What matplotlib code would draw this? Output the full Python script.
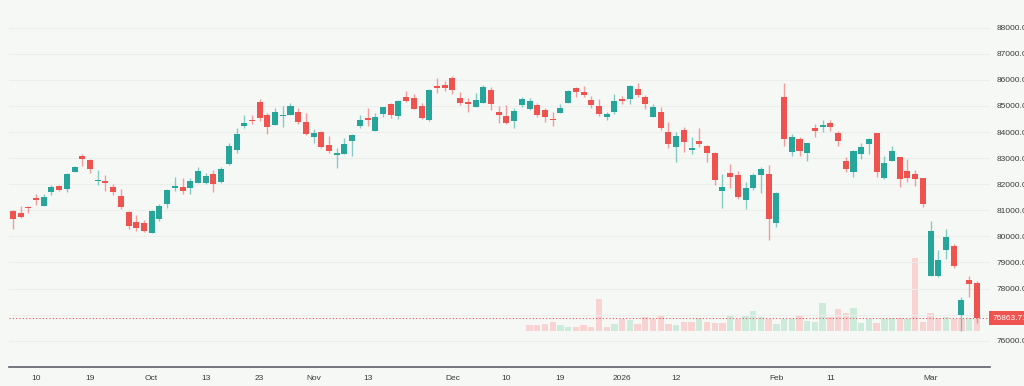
import matplotlib.pyplot as plt
import numpy as np
from matplotlib.ticker import FormatStrFormatter
from matplotlib.transforms import blended_transform_factory

plt.rcParams['font.family'] = ['Liberation Sans', 'DejaVu Sans']

# daily OHLC, one row of ten candles per line
opens = [80980, 80880, 81130, 81480, 81180, 81710, 81920, 81830, 82480, 83090,
         82930, 82120, 82120, 81890, 81550, 80920, 80550, 80500, 80120, 80650,
         81230, 81850, 81890, 81870, 82030, 82030, 82390, 82100, 82770, 83310,
         84240, 84470, 85160, 84650, 84270, 84630, 84640, 84760, 84380, 83800,
         84000, 83500, 83120, 83160, 83650, 84220, 84530, 84030, 84690, 85060,
         84630, 85330, 85320, 85000, 84460, 85770, 85800, 86080, 85320, 85140,
         84970, 85100, 85610, 84750, 84620, 84430, 85050, 84870, 85040, 84840,
         84510, 84740, 85130, 85680, 85540, 85230, 85000, 84570, 84760, 85260,
         85260, 85650, 85330, 84590, 84780, 84010, 83420, 84080, 83310, 83670,
         83480, 83210, 81750, 82440, 82340, 81390, 81850, 82340, 82380, 80520,
         85330, 83250, 83730, 83210, 84150, 84180, 84340, 83950, 82890, 82460,
         83160, 83530, 83950, 82240, 82900, 83030, 82510, 82400, 82230, 78480,
         78480, 79480, 79630, 76990, 78330, 78200]
highs = [81010, 81160, 81180, 81610, 81610, 81980, 81980, 82420, 82700, 83150,
         82980, 82540, 82340, 82020, 81820, 80980, 80830, 80630, 81010, 81230,
         81830, 82290, 82240, 82230, 82650, 82420, 82540, 82670, 83590, 84140,
         84650, 84650, 85270, 84740, 84930, 85000, 85100, 84910, 84720, 84100,
         84030, 83850, 83390, 83760, 83920, 84650, 84910, 84720, 84970, 85100,
         85230, 85590, 85460, 85100, 85640, 86060, 85960, 86160, 85540, 85310,
         85490, 85800, 85740, 85000, 85040, 84910, 85330, 85290, 85130, 84910,
         84760, 85080, 85610, 85720, 85770, 85380, 85260, 84780, 85460, 85390,
         85800, 85890, 85420, 85080, 84960, 84400, 84000, 84210, 83800, 84140,
         83500, 83250, 82390, 82760, 82510, 82070, 82420, 82670, 82740, 81710,
         85870, 83920, 83800, 83590, 84300, 84460, 84460, 84050, 83050, 83310,
         83570, 83760, 83950, 83080, 83460, 83050, 82950, 82540, 82230, 80600,
         79480, 80270, 79710, 77660, 78480, 78300]
lows = [80280, 80700, 80880, 81200, 81170, 81600, 81730, 81710, 82460, 82690,
        82440, 81970, 81730, 81570, 81040, 80280, 80210, 80170, 80120, 80600,
        81100, 81750, 81620, 81620, 82030, 82010, 81710, 82050, 82720, 83180,
        84170, 84300, 84420, 83920, 84270, 84200, 84640, 84300, 83890, 83590,
        83400, 83210, 82630, 83160, 83080, 84170, 84220, 84030, 84590, 84530,
        84500, 85160, 84870, 84500, 84430, 85490, 85570, 85460, 85040, 84750,
        84960, 85100, 84840, 84350, 84300, 84140, 84950, 84840, 84590, 84370,
        84230, 84720, 85100, 85350, 85330, 84910, 84620, 84460, 84690, 85080,
        85060, 85330, 84870, 84590, 84080, 83380, 82840, 83250, 83160, 83430,
        82860, 81970, 81100, 81840, 81440, 81050, 81780, 81650, 79860, 80350,
        83460, 83090, 83090, 82900, 83820, 84010, 84050, 83480, 82480, 82260,
        82950, 83150, 82260, 82200, 82900, 81900, 82100, 81940, 81110, 78480,
        78430, 79130, 78780, 76380, 77690, 76690]
closes = [80670, 80740, 81080, 81390, 81520, 81890, 81770, 82380, 82670, 82970,
          82590, 82170, 82060, 81690, 81110, 80390, 80330, 80210, 80960, 81180,
          81780, 81920, 81730, 82130, 82490, 82310, 82010, 82580, 83460, 83920,
          84360, 84410, 84530, 84180, 84780, 84670, 85000, 84370, 83920, 83960,
          83440, 83280, 83200, 83530, 83880, 84470, 84450, 84570, 84970, 84650,
          85190, 85200, 84890, 84550, 85610, 85700, 85700, 85610, 85110, 85090,
          85240, 85720, 85070, 84640, 84360, 84820, 85270, 85200, 84650, 84570,
          84460, 84910, 85590, 85520, 85410, 85040, 84690, 84680, 85200, 85180,
          85770, 85420, 85060, 84960, 84140, 83540, 83860, 83610, 83380, 83530,
          83210, 82160, 81880, 82260, 81510, 81840, 82340, 82570, 80670, 81650,
          83720, 83800, 83280, 83570, 84040, 84260, 84200, 83660, 82580, 83270,
          83440, 83730, 82480, 82800, 83270, 82210, 82250, 82210, 81240, 80210,
          79090, 79990, 78880, 77560, 78170, 76863.71]

# volume is only available from candle 67 onwards
vol_start = 67
volumes = [600, 600, 730, 930, 600, 430, 430, 600, 370, 3200,
           430, 730, 1200, 1070, 730, 1430, 1200, 1600, 730, 570,
           930, 930, 1330, 900, 830, 830, 1600, 1200, 1600, 2000,
           1430, 1200, 730, 1170, 1170, 1500, 1000, 900, 2770, 1430,
           2230, 1830, 2270, 830, 1230, 830, 1170, 1270, 1330, 1170,
           7270, 930, 1830, 1270, 1370, 1170, 1170, 1270, 1170]

tick_pos = [3, 10, 18, 25, 32, 39, 46, 57, 64, 71, 79, 86, 99, 106, 119]
tick_labels = ['10', '19', 'Oct', '13', '23', 'Nov', '13', 'Dec', '10', '19',
               '2026', '12', 'Feb', '11', 'Mar']

up_color = '#26a69a'
down_color = '#ef5350'
bg = '#f6f8f6'

o = np.array(opens, dtype=float)
h = np.array(highs, dtype=float)
l = np.array(lows, dtype=float)
c = np.array(closes, dtype=float)
x = np.arange(len(o))
up = c >= o
colors = np.where(up, up_color, down_color)

fig = plt.figure(figsize=(10.24, 3.86), dpi=100, facecolor=bg)
rect = [9 / 1024, 19 / 386, 981 / 1024, 367 / 386]

# volume overlay (drawn underneath the candles)
axv = fig.add_axes(rect)
axv.set_facecolor(bg)
vx = np.arange(vol_start, len(c))
vol_up = c[vol_start:] >= c[vol_start - 1:-1]
vcol = np.where(vol_up, '#cdeadb', '#f8d3d2')
axv.bar(vx, volumes, width=0.82, color=vcol, linewidth=0)
axv.set_ylim(-3600, 33100)
axv.set_xlim(-0.5, 126.7)
axv.axis('off')

ax = fig.add_axes(rect, sharex=axv)
ax.patch.set_visible(False)

# wicks and bodies
ax.vlines(x[up], l[up], h[up], color=up_color, lw=1, alpha=0.55, zorder=3)
ax.vlines(x[~up], l[~up], h[~up], color=down_color, lw=1, alpha=0.55, zorder=3)
bottoms = np.minimum(o, c)
heights = np.maximum(np.abs(c - o), 35)
ax.bar(x, heights, bottom=bottoms, width=0.78, color=colors, linewidth=0, zorder=4)

ax.set_ylim(74991, 89062)
ax.set_xlim(-0.5, 126.7)

ax.set_yticks(np.arange(76000, 88001, 1000))
ax.yaxis.set_major_formatter(FormatStrFormatter('%.2f'))
ax.yaxis.tick_right()
ax.tick_params(axis='y', length=0, pad=5, labelsize=6, labelcolor='#3a3a3a')
ax.grid(axis='y', color='#eceeec', lw=0.8)
ax.set_axisbelow(True)

ax.set_xticks(tick_pos)
ax.set_xticklabels(tick_labels)
ax.tick_params(axis='x', length=0, pad=6, labelsize=6, labelcolor='#3a3a3a')

for s in ['top', 'left', 'right']:
    ax.spines[s].set_visible(False)
ax.spines['bottom'].set_color('#5d606b')
ax.spines['bottom'].set_linewidth(1.2)

# last price line and label
last = closes[-1]
ax.axhline(last, color=down_color, lw=0.8, ls=(0, (1, 2)), zorder=2)
tr = blended_transform_factory(ax.transAxes, ax.transData)
ax.text(1.003, last, f'{last:.2f}', transform=tr, ha='left', va='center',
        fontsize=6, color='white', clip_on=False, zorder=10,
        bbox=dict(boxstyle='square,pad=0.45', fc=down_color, ec='none'))

fig.savefig('out.png', dpi=100, facecolor=bg)
